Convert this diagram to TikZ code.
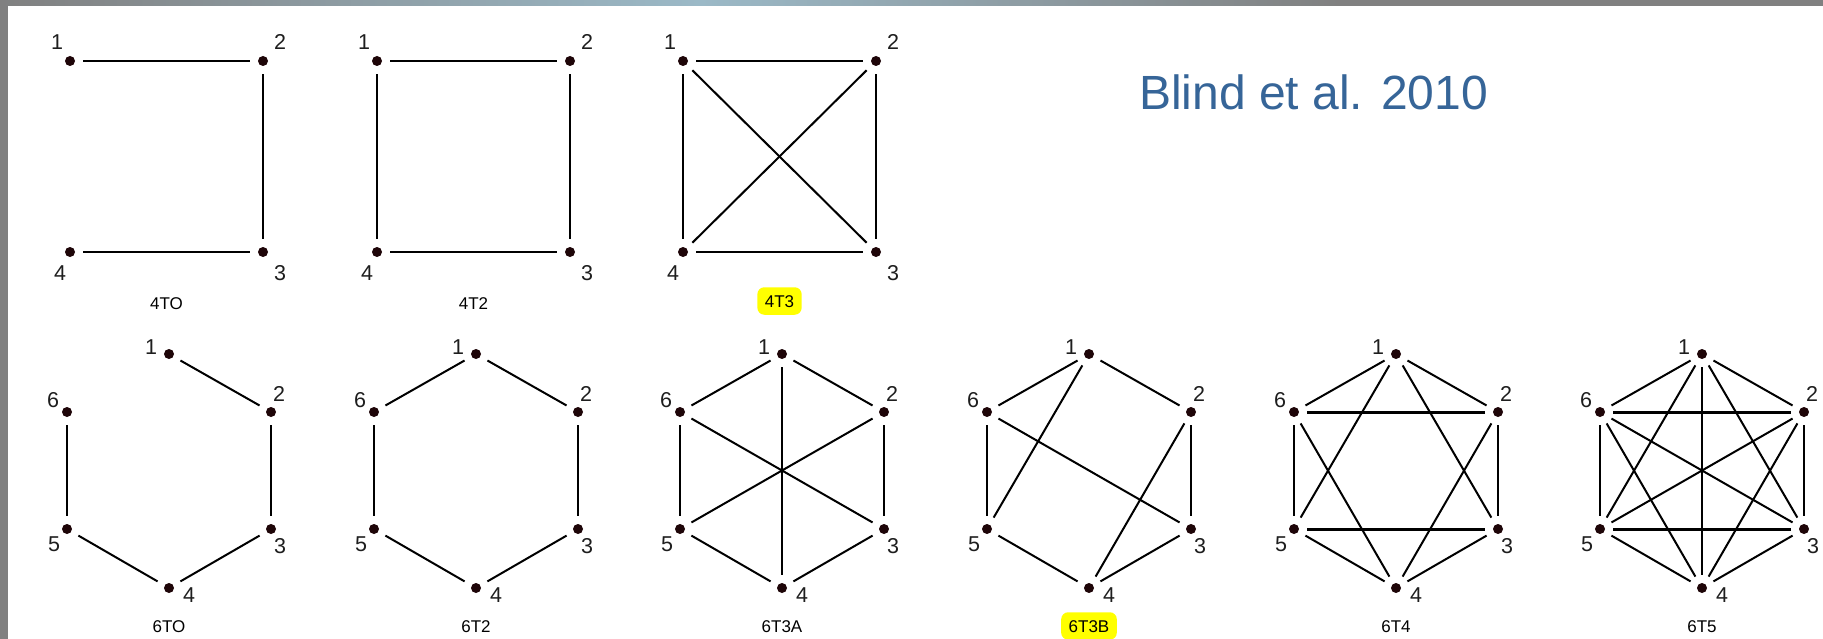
\documentclass[tikz,border=0pt]{standalone}
\usepackage{fontspec}
\setmainfont{Liberation Sans}
\definecolor{dotc}{RGB}{30,5,8}
\definecolor{numc}{RGB}{30,30,30}
\definecolor{barg}{RGB}{128,128,128}
\definecolor{barb}{RGB}{155,185,199}
\definecolor{blindc}{RGB}{54,101,152}
\definecolor{hly}{RGB}{255,255,0}
\tikzset{
  dot/.style={circle, fill=dotc, inner sep=0pt, minimum size=10pt},
  num/.style={font=\fontsize{21.5}{21.5}\selectfont, text=numc, inner sep=0pt},
  gname/.style={font=\fontsize{17}{17}\selectfont, inner sep=0pt, text height=12.5pt, text depth=0pt},
  hl/.style={fill=hly, rounded corners=7pt, inner xsep=7.5pt, inner ysep=7.5pt},
  edge/.style={draw=black, line width=2pt, shorten <=8pt, shorten >=8pt},
  bedge/.style={edge, line width=3pt},
  medge/.style={edge, line width=2.5pt},
}
\newcommand\vx[5]{\node[dot] (#1) at (#2,#3) {}; \node[num] (#1l) at ([shift={(#4)}]#1) {#5};}
\newcommand\sqg[2]{%
  \vx{#1-1}{#2}{61}{-13,-19}{1}
  \vx{#1-2}{#2+193}{61}{17,-19}{2}
  \vx{#1-3}{#2+193}{252}{17,21}{3}
  \vx{#1-4}{#2}{252}{-10,21}{4}
}
\newcommand\hexg[2]{%
  \vx{#1-1}{#2}{354}{-18,-7}{1}
  \vx{#1-2}{#2+102}{412}{8,-18}{2}
  \vx{#1-3}{#2+102}{529}{9,17}{3}
  \vx{#1-4}{#2}{588}{20,7}{4}
  \vx{#1-5}{#2-102}{529}{-13,15}{5}
  \vx{#1-6}{#2-102}{412}{-14,-12}{6}
}
\begin{document}
\begin{tikzpicture}[x=1pt,y=-1pt]
\useasboundingbox (0,0) rectangle (1823,639);
\fill[white] (0,0) rectangle (1823,639);
% frame bars
\shade[left color=barg, right color=barb] (0,0) rectangle (700,6);
\shade[left color=barb, right color=barg] (700,0) rectangle (1340,6);
\fill[barg] (1340,0) rectangle (1823,6);
\fill[barg] (0,6) rectangle (8,639);
% citation
\node[anchor=base west, inner sep=0pt, text=blindc, font=\fontsize{48}{48}\selectfont] (cite) at (1139,110) {Blind et al. 2010};
% 4TO
\sqg{a}{70}
\foreach \p/\q in {1/2,2/3,4/3} \draw[edge] (a-\p) -- (a-\q);
\node[gname] (na) at (166.5,303) {4TO};
% 4T2
\sqg{b}{377}
\foreach \p/\q in {1/2,2/3,4/3,1/4} \draw[edge] (b-\p) -- (b-\q);
\node[gname] (nb) at (473.5,303) {4T2};
% 4T3
\sqg{c}{683}
\foreach \p/\q in {1/2,2/3,4/3,1/4,1/3,2/4} \draw[edge] (c-\p) -- (c-\q);
\node[gname, hl] (nc) at (779.5,301) {4T3};
% 6TO
\hexg{d}{169}
\foreach \p/\q in {1/2,2/3,3/4,4/5,5/6} \draw[edge] (d-\p) -- (d-\q);
\node[gname] (nd) at (169,626) {6TO};
% 6T2
\hexg{e}{476}
\foreach \p/\q in {1/2,2/3,3/4,4/5,5/6,6/1} \draw[edge] (e-\p) -- (e-\q);
\node[gname] (ne) at (476,626) {6T2};
% 6T3A
\hexg{f}{782}
\foreach \p/\q in {1/2,2/3,3/4,4/5,5/6,6/1,2/5,6/3} \draw[edge] (f-\p) -- (f-\q);
\draw[medge] (f-1) -- (f-4);
\node[gname] (nf) at (782,626) {6T3A};
% 6T3B
\hexg{g}{1089}
\foreach \p/\q in {1/2,2/3,3/4,4/5,5/6,6/1,1/5,2/4,6/3} \draw[edge] (g-\p) -- (g-\q);
\node[gname, hl] (ng) at (1089,626) {6T3B};
% 6T4
\hexg{h}{1396}
\foreach \p/\q in {1/2,2/3,3/4,4/5,5/6,6/1,1/5,1/3,2/4,6/4} \draw[edge] (h-\p) -- (h-\q);
\draw[bedge] (h-6) -- (h-2);
\draw[bedge] (h-5) -- (h-3);
\node[gname] (nh) at (1396,626) {6T4};
% 6T5
\hexg{i}{1702}
\foreach \p/\q in {1/2,2/3,3/4,4/5,5/6,6/1,1/5,1/3,2/4,6/4,2/5,6/3} \draw[edge] (i-\p) -- (i-\q);
\draw[bedge] (i-6) -- (i-2);
\draw[bedge] (i-5) -- (i-3);
\draw[medge] (i-1) -- (i-4);
\node[gname] (ni) at (1702,626) {6T5};
\end{tikzpicture}
\end{document}
